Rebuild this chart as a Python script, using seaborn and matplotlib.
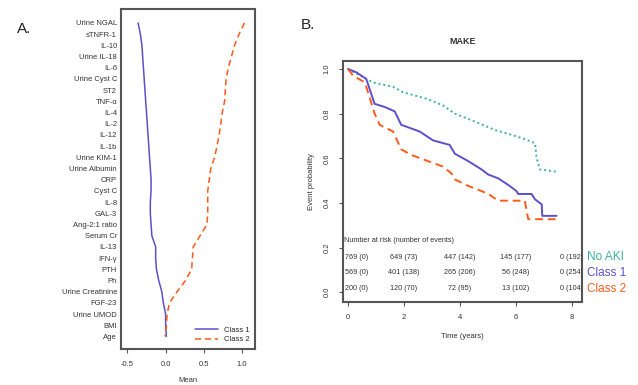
import numpy as np
import matplotlib
matplotlib.use('Agg')
import matplotlib.pyplot as plt
import pandas as pd
import seaborn as sns

sns.set_style('ticks')
plt.rcParams['font.family'] = ['Liberation Sans', 'DejaVu Sans']

# panel A: mean by biomarker
markers = ['Urine NGAL', 'sTNFR-1', 'IL-10', 'Urine IL-18', 'IL-6', 'Urine Cyst C', 'ST2',
           'TNF-α', 'IL-4', 'IL-2', 'IL-12', 'IL-1b', 'Urine KIM-1', 'Urine Albumin', 'CRP',
           'Cyst C', 'IL-8', 'GAL-3', 'Ang-2:1 ratio', 'Serum Cr', 'IL-13', 'IFN-γ', 'PTH',
           'Ph', 'Urine Creatinine', 'FGF-23', 'Urine UMOD', 'BMI', 'Age']
class1_mean = [-0.36, -0.33, -0.31, -0.30, -0.29, -0.28, -0.27, -0.26, -0.25, -0.24, -0.23,
               -0.22, -0.21, -0.20, -0.19, -0.19, -0.20, -0.20, -0.19, -0.18, -0.13, -0.13,
               -0.12, -0.09, -0.05, -0.03, 0.0, 0.0, 0.01]
class2_mean = [1.03, 0.96, 0.90, 0.86, 0.82, 0.79, 0.78, 0.77, 0.74, 0.72, 0.70, 0.67, 0.64,
               0.59, 0.57, 0.55, 0.55, 0.55, 0.54, 0.45, 0.36, 0.35, 0.34, 0.26, 0.15, 0.05,
               0.02, 0.01, -0.01]

# panel B: MAKE event curves
noaki_t = [0, 0.89, 1.61, 1.96, 2.8, 3.39, 3.82, 4.54, 5.25, 5.85, 6.38, 6.68, 6.74, 6.86,
           7.45]
noaki_p = [1.0, 0.94, 0.92, 0.896, 0.867, 0.837, 0.80, 0.764, 0.727, 0.705, 0.683, 0.668,
           0.60, 0.55, 0.54]
c1_t = [0, 0.3, 0.65, 0.95, 1.31, 1.67, 1.9, 2.56, 3.04, 3.63, 3.82, 4.3, 4.77, 5.01, 5.37,
        5.73, 6.02, 6.08, 6.56, 6.68, 6.92, 6.94, 7.45]
c1_p = [1.0, 0.985, 0.956, 0.844, 0.83, 0.81, 0.75, 0.72, 0.68, 0.66, 0.62, 0.587, 0.55,
        0.527, 0.51, 0.48, 0.453, 0.44, 0.44, 0.416, 0.394, 0.342, 0.342]
c2_t = [0, 0.18, 0.6, 0.77, 0.95, 1.13, 1.61, 1.9, 2.26, 2.8, 3.39, 3.69, 3.82, 4.3, 4.77,
        5.01, 5.37, 6.32, 6.38, 6.44, 7.45]
c2_p = [1.0, 0.97, 0.94, 0.874, 0.80, 0.75, 0.72, 0.64, 0.615, 0.59, 0.563, 0.533, 0.505,
        0.476, 0.453, 0.44, 0.41, 0.41, 0.364, 0.327, 0.327]

risk_times = [0, 2, 4, 6, 8]
risk_noaki = ['769 (0)', '649 (73)', '447 (142)', '145 (177)', '0 (192)']
risk_c1 = ['569 (0)', '401 (138)', '265 (206)', '56 (248)', '0 (254)']
risk_c2 = ['200 (0)', '120 (70)', '72 (95)', '13 (102)', '0 (104)']

groups = ['No AKI', 'Class 1', 'Class 2']
col_noaki = '#3bb39c'
col_c1 = '#5c50cc'
col_c2 = '#ff5a1a'
frame = '#555555'

fig = plt.figure(figsize=(6.38, 3.85), dpi=100)
axA = fig.add_axes([0.19, 0.094, 0.21, 0.883])
axB = fig.add_axes([0.5376, 0.2156, 0.3746, 0.626])

# ---- panel A
idx = np.arange(len(markers))
dfA = pd.DataFrame({'pos': np.concatenate([idx, idx]),
                    'mean': class1_mean + class2_mean,
                    'cls': ['Class 1'] * len(idx) + ['Class 2'] * len(idx)})
sns.lineplot(data=dfA, x='mean', y='pos', hue='cls', style='cls', orient='y', sort=False,
             estimator=None, palette={'Class 1': col_c1, 'Class 2': col_c2},
             dashes={'Class 1': '', 'Class 2': (4, 2.5)}, linewidth=1.1, ax=axA)
axA.set_ylim(29.1, -1.25)
axA.set_xlim(-0.58, 1.17)
axA.set_yticks(idx)
axA.set_yticklabels(markers, fontsize=5.5, color='#333333')
axA.tick_params(axis='y', length=0, pad=3)
axA.set_xticks([-0.5, 0.0, 0.5, 1.0])
axA.set_xticklabels(['-0.5', '0.0', '0.5', '1.0'], fontsize=5.5, color='#333333')
axA.tick_params(axis='x', length=3, color=frame, pad=6)
axA.set_xlabel('Mean', fontsize=5.5, color='#333333', labelpad=6)
axA.set_ylabel('')
leg = axA.legend(loc='lower right', fontsize=5.5, frameon=False, handlelength=3,
                 borderaxespad=0.3, labelspacing=0.3)
for sp in axA.spines.values():
    sp.set_color(frame)
    sp.set_linewidth(1.5)

# ---- panel B
dfB = pd.concat([
    pd.DataFrame({'t': noaki_t, 'p': noaki_p, 'g': 'No AKI'}),
    pd.DataFrame({'t': c1_t, 'p': c1_p, 'g': 'Class 1'}),
    pd.DataFrame({'t': c2_t, 'p': c2_p, 'g': 'Class 2'}),
])
sns.lineplot(data=dfB, x='t', y='p', hue='g', style='g', sort=False, estimator=None,
             palette={'No AKI': col_noaki, 'Class 1': col_c1, 'Class 2': col_c2},
             dashes={'No AKI': (1, 1.5), 'Class 1': '', 'Class 2': (4, 2.5)},
             linewidth=1.4, legend=False, ax=axB)
axB.set_xlim(-0.18, 8.36)
axB.set_ylim(-0.044, 1.036)
axB.set_xticks(risk_times)
axB.set_xticklabels([str(t) for t in risk_times], fontsize=5.5, color='#333333')
axB.set_yticks([0.0, 0.2, 0.4, 0.6, 0.8, 1.0])
axB.set_yticklabels(['0.0', '0.2', '0.4', '0.6', '0.8', '1.0'], fontsize=5.5,
                    color='#333333', rotation=90, va='center')
axB.tick_params(length=3, color=frame, pad=6)
axB.set_xlabel('Time (years)', fontsize=5.5, color='#333333', labelpad=8)
axB.set_ylabel('Event probability', fontsize=5.5, color='#333333', labelpad=6)
axB.set_title('MAKE', fontsize=6.5, fontweight='bold', color='#333333', pad=12)
for sp in axB.spines.values():
    sp.set_color(frame)
    sp.set_linewidth(1.5)

axB.text(-0.15, 0.23, 'Number at risk (number of events)', fontsize=5.2, color='#333333',
         ha='left', va='center')
rows = [risk_noaki, risk_c1, risk_c2]
row_y = [0.157, 0.087, 0.016]
row_cols = [col_noaki, col_c1, col_c2]
for labels, yy, g, c in zip(rows, row_y, groups, row_cols):
    for k, (t, lab) in enumerate(zip(risk_times, labels)):
        ha = 'left' if k == 0 else 'center'
        xx = t - 0.1 if k == 0 else t
        axB.text(xx, yy, lab, fontsize=5.2, color='#333333', ha=ha, va='center',
                 clip_on=True)
    axB.text(1.02, (yy + 0.044) / 1.08, g, transform=axB.transAxes, fontsize=8.5,
             color=c, ha='left', va='center')

fig.text(0.027, 0.925, 'A.', fontsize=11, color='#222222', ha='left', va='center')
fig.text(0.472, 0.935, 'B.', fontsize=11, color='#222222', ha='left', va='center')

fig.savefig('out.png', dpi=100)
